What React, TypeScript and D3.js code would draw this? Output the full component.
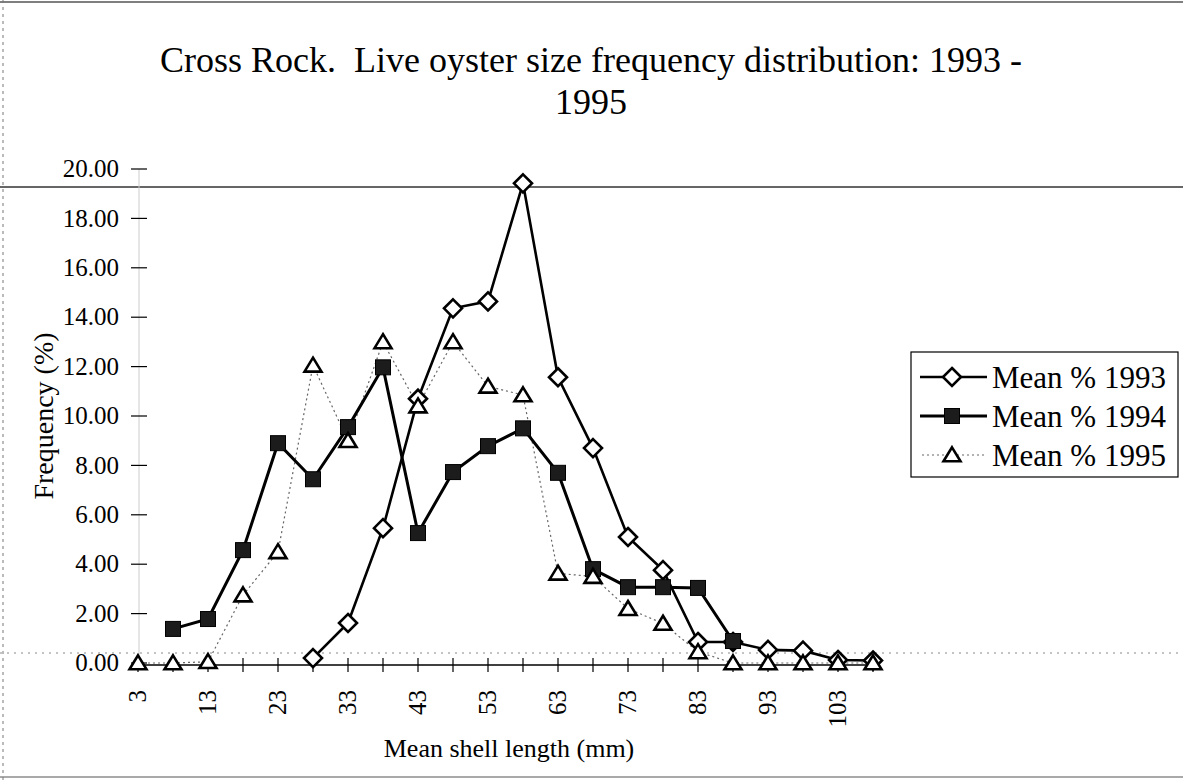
import React from "react";
import * as d3 from "d3";

const categories = [3, 8, 13, 18, 23, 28, 33, 38, 43, 48, 53, 58, 63, 68, 73, 78, 83, 88, 93, 98, 103, 108];
const xTickLabels = [3, 13, 23, 33, 43, 53, 63, 73, 83, 93, 103];
const yTicks = [0, 2, 4, 6, 8, 10, 12, 14, 16, 18, 20];

const mean1993: (number | null)[] = [null, null, null, null, null, 0.2, 1.62, 5.46, 10.7, 14.36, 14.64, 19.42, 11.57, 8.7, 5.1, 3.76, 0.85, 0.85, 0.53, 0.5, 0.12, 0.1];
const mean1994: (number | null)[] = [null, 1.38, 1.78, 4.57, 8.9, 7.44, 9.55, 11.97, 5.26, 7.73, 8.78, 9.5, 7.7, 3.8, 3.07, 3.07, 3.04, 0.89, null, null, null, null];
const mean1995: (number | null)[] = [0, 0, 0.05, 2.75, 4.5, 12.05, 9.0, 13.0, 10.4, 13.0, 11.2, 10.85, 3.63, 3.5, 2.2, 1.6, 0.45, 0, 0, 0, 0, 0];

const seriesNames = ["Mean % 1993", "Mean % 1994", "Mean % 1995"];

const W = 1183;
const H = 784;
const FONT = "'Liberation Serif', 'Times New Roman', serif";

const x = d3.scalePoint<number>().domain(categories).range([138, 873]).padding(0);
const y = d3.scaleLinear().domain([0, 20]).range([663, 169]);

function Diamond({ cx, cy }: { cx: number; cy: number }) {
  const r = 9;
  return (
    <path
      d={`M${cx},${cy - r}L${cx + r},${cy}L${cx},${cy + r}L${cx - r},${cy}Z`}
      fill="#fff"
      stroke="#000"
      strokeWidth={2.6}
    />
  );
}
function Square({ cx, cy }: { cx: number; cy: number }) {
  const s = 7.5;
  return <rect x={cx - s} y={cy - s} width={2 * s} height={2 * s} fill="#1c1c1c" stroke="#000" strokeWidth={1} />;
}
function Triangle({ cx, cy }: { cx: number; cy: number }) {
  const w = 8.5;
  const h = 14;
  return (
    <path
      d={`M${cx},${cy - h * 0.55}L${cx + w},${cy + h * 0.45}L${cx - w},${cy + h * 0.45}Z`}
      fill="#fff"
      stroke="#000"
      strokeWidth={2.6}
    />
  );
}

export default function App() {
  const line = d3
    .line<number | null>()
    .defined((d) => d !== null)
    .x((_, i) => x(categories[i]) as number)
    .y((d) => y(d as number));

  const pts = (arr: (number | null)[]) =>
    arr.map((v, i) => (v === null ? null : { cx: x(categories[i]) as number, cy: y(v) })).filter(Boolean) as {
      cx: number;
      cy: number;
    }[];

  const legendRows = [377, 416, 455];

  return (
    <svg width={W} height={H} style={{ position: "absolute", left: 0, top: 0, background: "#fff" }}>
      <rect x={0} y={0} width={W} height={H} fill="#fff" />
      {/* page frame / scan lines */}
      <line x1={0} x2={W} y1={2} y2={2} stroke="#555" strokeWidth={1.5} />
      <line x1={0} x2={W} y1={777} y2={777} stroke="#555" strokeWidth={1.2} />
      <line x1={3} x2={3} y1={0} y2={H} stroke="#777" strokeWidth={1} strokeDasharray="3,4" />
      <line x1={0} x2={W} y1={187} y2={187} stroke="#333" strokeWidth={1.5} />
      <line x1={0} x2={W} y1={653} y2={653} stroke="#888" strokeWidth={1} strokeDasharray="2,5" />

      {/* title */}
      <text x={591} y={72} textAnchor="middle" fontFamily={FONT} fontSize={36} fill="#000">
        Cross Rock.{"\u00a0\u00a0"}Live oyster size frequency distribution: 1993 -
      </text>
      <text x={591} y={114} textAnchor="middle" fontFamily={FONT} fontSize={36} fill="#000">
        1995
      </text>

      {/* y axis */}
      <line x1={139} x2={139} y1={y(0)} y2={y(20)} stroke="#ccc" strokeWidth={1} />
      {yTicks.map((t) => (
        <g key={t}>
          <line x1={131} x2={147} y1={y(t)} y2={y(t)} stroke="#000" strokeWidth={1.2} />
          <text x={119} y={y(t)} dy="0.33em" textAnchor="end" fontFamily={FONT} fontSize={25} fill="#000">
            {t.toFixed(2)}
          </text>
        </g>
      ))}
      <text
        transform={`translate(53,416) rotate(-90)`}
        textAnchor="middle"
        fontFamily={FONT}
        fontSize={28}
        fill="#000"
      >
        Frequency (%)
      </text>

      {/* x axis */}
      <line x1={x(3)} x2={880} y1={665} y2={665} stroke="#000" strokeWidth={1.3} />
      {categories.map((c) => (
        <line key={c} x1={x(c)} x2={x(c)} y1={658} y2={672} stroke="#000" strokeWidth={1.2} />
      ))}
      {xTickLabels.map((c) => (
        <text
          key={c}
          transform={`translate(${(x(c) as number) + 8},690) rotate(-90)`}
          textAnchor="end"
          fontFamily={FONT}
          fontSize={25}
          fill="#000"
        >
          {c}
        </text>
      ))}
      <text x={509} y={757} textAnchor="middle" fontFamily={FONT} fontSize={26} fill="#000">
        Mean shell length (mm)
      </text>

      {/* series lines */}
      <path d={line(mean1995) || ""} fill="none" stroke="#666" strokeWidth={1.2} strokeDasharray="2,3" />
      <path d={line(mean1993) || ""} fill="none" stroke="#000" strokeWidth={2.6} />
      <path d={line(mean1994) || ""} fill="none" stroke="#000" strokeWidth={3} />

      {/* markers */}
      {pts(mean1993).map((p, i) => (
        <Diamond key={"d" + i} {...p} />
      ))}
      {pts(mean1994).map((p, i) => (
        <Square key={"s" + i} {...p} />
      ))}
      {pts(mean1995).map((p, i) => (
        <Triangle key={"t" + i} {...p} />
      ))}

      {/* legend */}
      <rect x={911} y={352} width={267} height={125} fill="#fff" stroke="#000" strokeWidth={1.2} />
      {seriesNames.map((name, i) => {
        const ly = legendRows[i];
        return (
          <g key={name}>
            {i === 2 ? (
              <line x1={922} x2={985} y1={ly} y2={ly} stroke="#666" strokeWidth={1.2} strokeDasharray="2,3" />
            ) : (
              <line x1={920} x2={987} y1={ly} y2={ly} stroke="#000" strokeWidth={i === 0 ? 2.4 : 3} />
            )}
            {i === 0 && <Diamond cx={952} cy={ly} />}
            {i === 1 && <Square cx={952} cy={ly} />}
            {i === 2 && <Triangle cx={952} cy={ly} />}
            <text x={992} y={ly} dy="0.35em" fontFamily={FONT} fontSize={31} fill="#000">
              {name}
            </text>
          </g>
        );
      })}
    </svg>
  );
}
